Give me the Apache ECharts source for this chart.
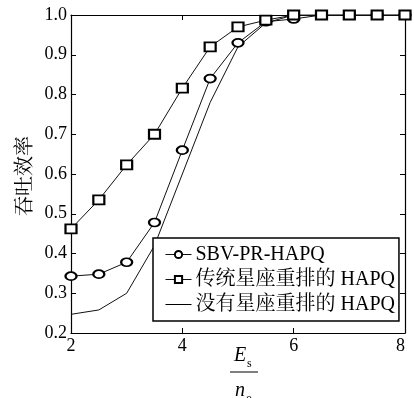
<!DOCTYPE html>
<html><head><meta charset="utf-8">
<script src="https://cdn.jsdelivr.net/npm/echarts@6/dist/echarts.min.js"></script>
<style>html,body{margin:0;padding:0;background:#fff}#c{width:414px;height:398px}</style>
</head><body><div id="c"></div>
<script>
const xValues = [2, 2.5, 3, 3.5, 4, 4.5, 5, 5.5, 6, 6.5, 7, 7.5, 8];
const sbvValues = [0.343, 0.348, 0.378, 0.478, 0.66, 0.84, 0.93, 0.983, 0.99, 1.0, 1.0, 1.0, 1.0];
const tradValues = [0.462, 0.535, 0.623, 0.70, 0.816, 0.92, 0.97, 0.987, 1.0, 1.0, 1.0, 1.0, 1.0];
const noneValues = [0.247, 0.258, 0.30, 0.42, 0.60, 0.78, 0.92, 0.98, 1.0, 1.0, 1.0, 1.0, 1.0];
const seriesNames = ['SBV-PR-HAPQ', '传统星座重排的 HAPQ', '没有星座重排的 HAPQ'];
const xTicks = [2, 4, 6, 8];
const yTicks = [0.2, 0.3, 0.4, 0.5, 0.6, 0.7, 0.8, 0.9, 1.0];

const FONT = '"Liberation Serif", "Noto Serif CJK SC", "Noto Sans CJK SC", serif';
const chart = echarts.init(document.getElementById('c'));
const pairs = v => xValues.map((x, i) => [x, v[i]]);
const lineStyle = { color: '#111', width: 1 };
const axBase = {
  axisLine: { show: true, lineStyle: { color: '#000', width: 1.2 } },
  axisTick: { show: true, inside: true, length: 5, lineStyle: { color: '#000' } },
  splitLine: { show: false }
};
chart.setOption({
  animation: false,
  backgroundColor: '#fff',
  grid: { left: 71, top: 15, right: 9, bottom: 65, containLabel: false },
  xAxis: [
    Object.assign({ type: 'value', min: 2, max: 8, interval: 2, position: 'bottom',
      axisLabel: { color: '#000', fontSize: 18, fontFamily: FONT, margin: 4, alignMaxLabel: 'right',
        formatter: v => xTicks.includes(v) ? String(v) : '' } }, axBase),
    Object.assign({ type: 'value', min: 2, max: 8, interval: 2, position: 'top',
      axisLabel: { show: false } }, axBase)
  ],
  yAxis: [
    Object.assign({ type: 'value', min: 0.2, max: 1.0, interval: 0.1, position: 'left',
      axisLabel: { color: '#000', fontSize: 18, fontFamily: FONT, margin: 4,
        formatter: v => yTicks.some(t => Math.abs(t - v) < 1e-6) ? v.toFixed(1) : '' } }, axBase),
    Object.assign({ type: 'value', min: 0.2, max: 1.0, interval: 0.1, position: 'right',
      axisLabel: { show: false } }, axBase)
  ],
  legend: {
    orient: 'vertical', left: 153, top: 238,
    backgroundColor: '#fff',
    borderColor: '#000', borderWidth: 1.5, borderRadius: 0,
    padding: [6, 4, 6, 12], itemGap: 4, itemWidth: 26, itemHeight: 9,
    lineStyle: { width: 1 },
    itemStyle: { borderWidth: 1 },
    textStyle: { color: '#000', fontSize: 20, fontFamily: FONT, lineHeight: 21, padding: [0, 0, 0, -1] },
    data: [
      { name: seriesNames[0] },
      { name: seriesNames[1] },
      { name: seriesNames[2], icon: 'path://M0,0H26V1H0Z' }
    ]
  },
  series: [
    { name: seriesNames[0], type: 'line', data: pairs(sbvValues), symbol: 'emptyCircle', symbolSize: [11, 8],
      showAllSymbol: true,
      lineStyle: lineStyle, itemStyle: { color: '#000', borderWidth: 1 }, z: 3 },
    { name: seriesNames[1], type: 'line', data: pairs(tradValues), symbol: 'emptyRect', symbolSize: [11, 9],
      showAllSymbol: true,
      lineStyle: lineStyle, itemStyle: { color: '#000', borderWidth: 1 }, z: 3 },
    { name: seriesNames[2], type: 'line', data: pairs(noneValues), symbol: 'none',
      lineStyle: lineStyle, itemStyle: { color: '#000' }, z: 2 }
  ],
  graphic: [
    { type: 'text', left: 13, top: 136, rotation: Math.PI / 2,
      style: { text: '吞吐效率', font: '20px "Noto Serif CJK SC", "Noto Sans CJK SC", serif', fill: '#000' } },
    { type: 'text', x: 234, y: 346, style: { text: 'E', font: 'italic 20px ' + FONT, fill: '#000' } },
    { type: 'text', x: 247, y: 358, style: { text: 's', font: '12px ' + FONT, fill: '#000' } },
    { type: 'line', shape: { x1: 230, y1: 372, x2: 258, y2: 372 }, style: { stroke: '#000', lineWidth: 1 } },
    { type: 'text', x: 235, y: 381, style: { text: 'n', font: 'italic 20px ' + FONT, fill: '#000' } },
    { type: 'text', x: 246, y: 395, style: { text: '0', font: '12px ' + FONT, fill: '#000' } }
  ]
});
</script>
</body></html>
